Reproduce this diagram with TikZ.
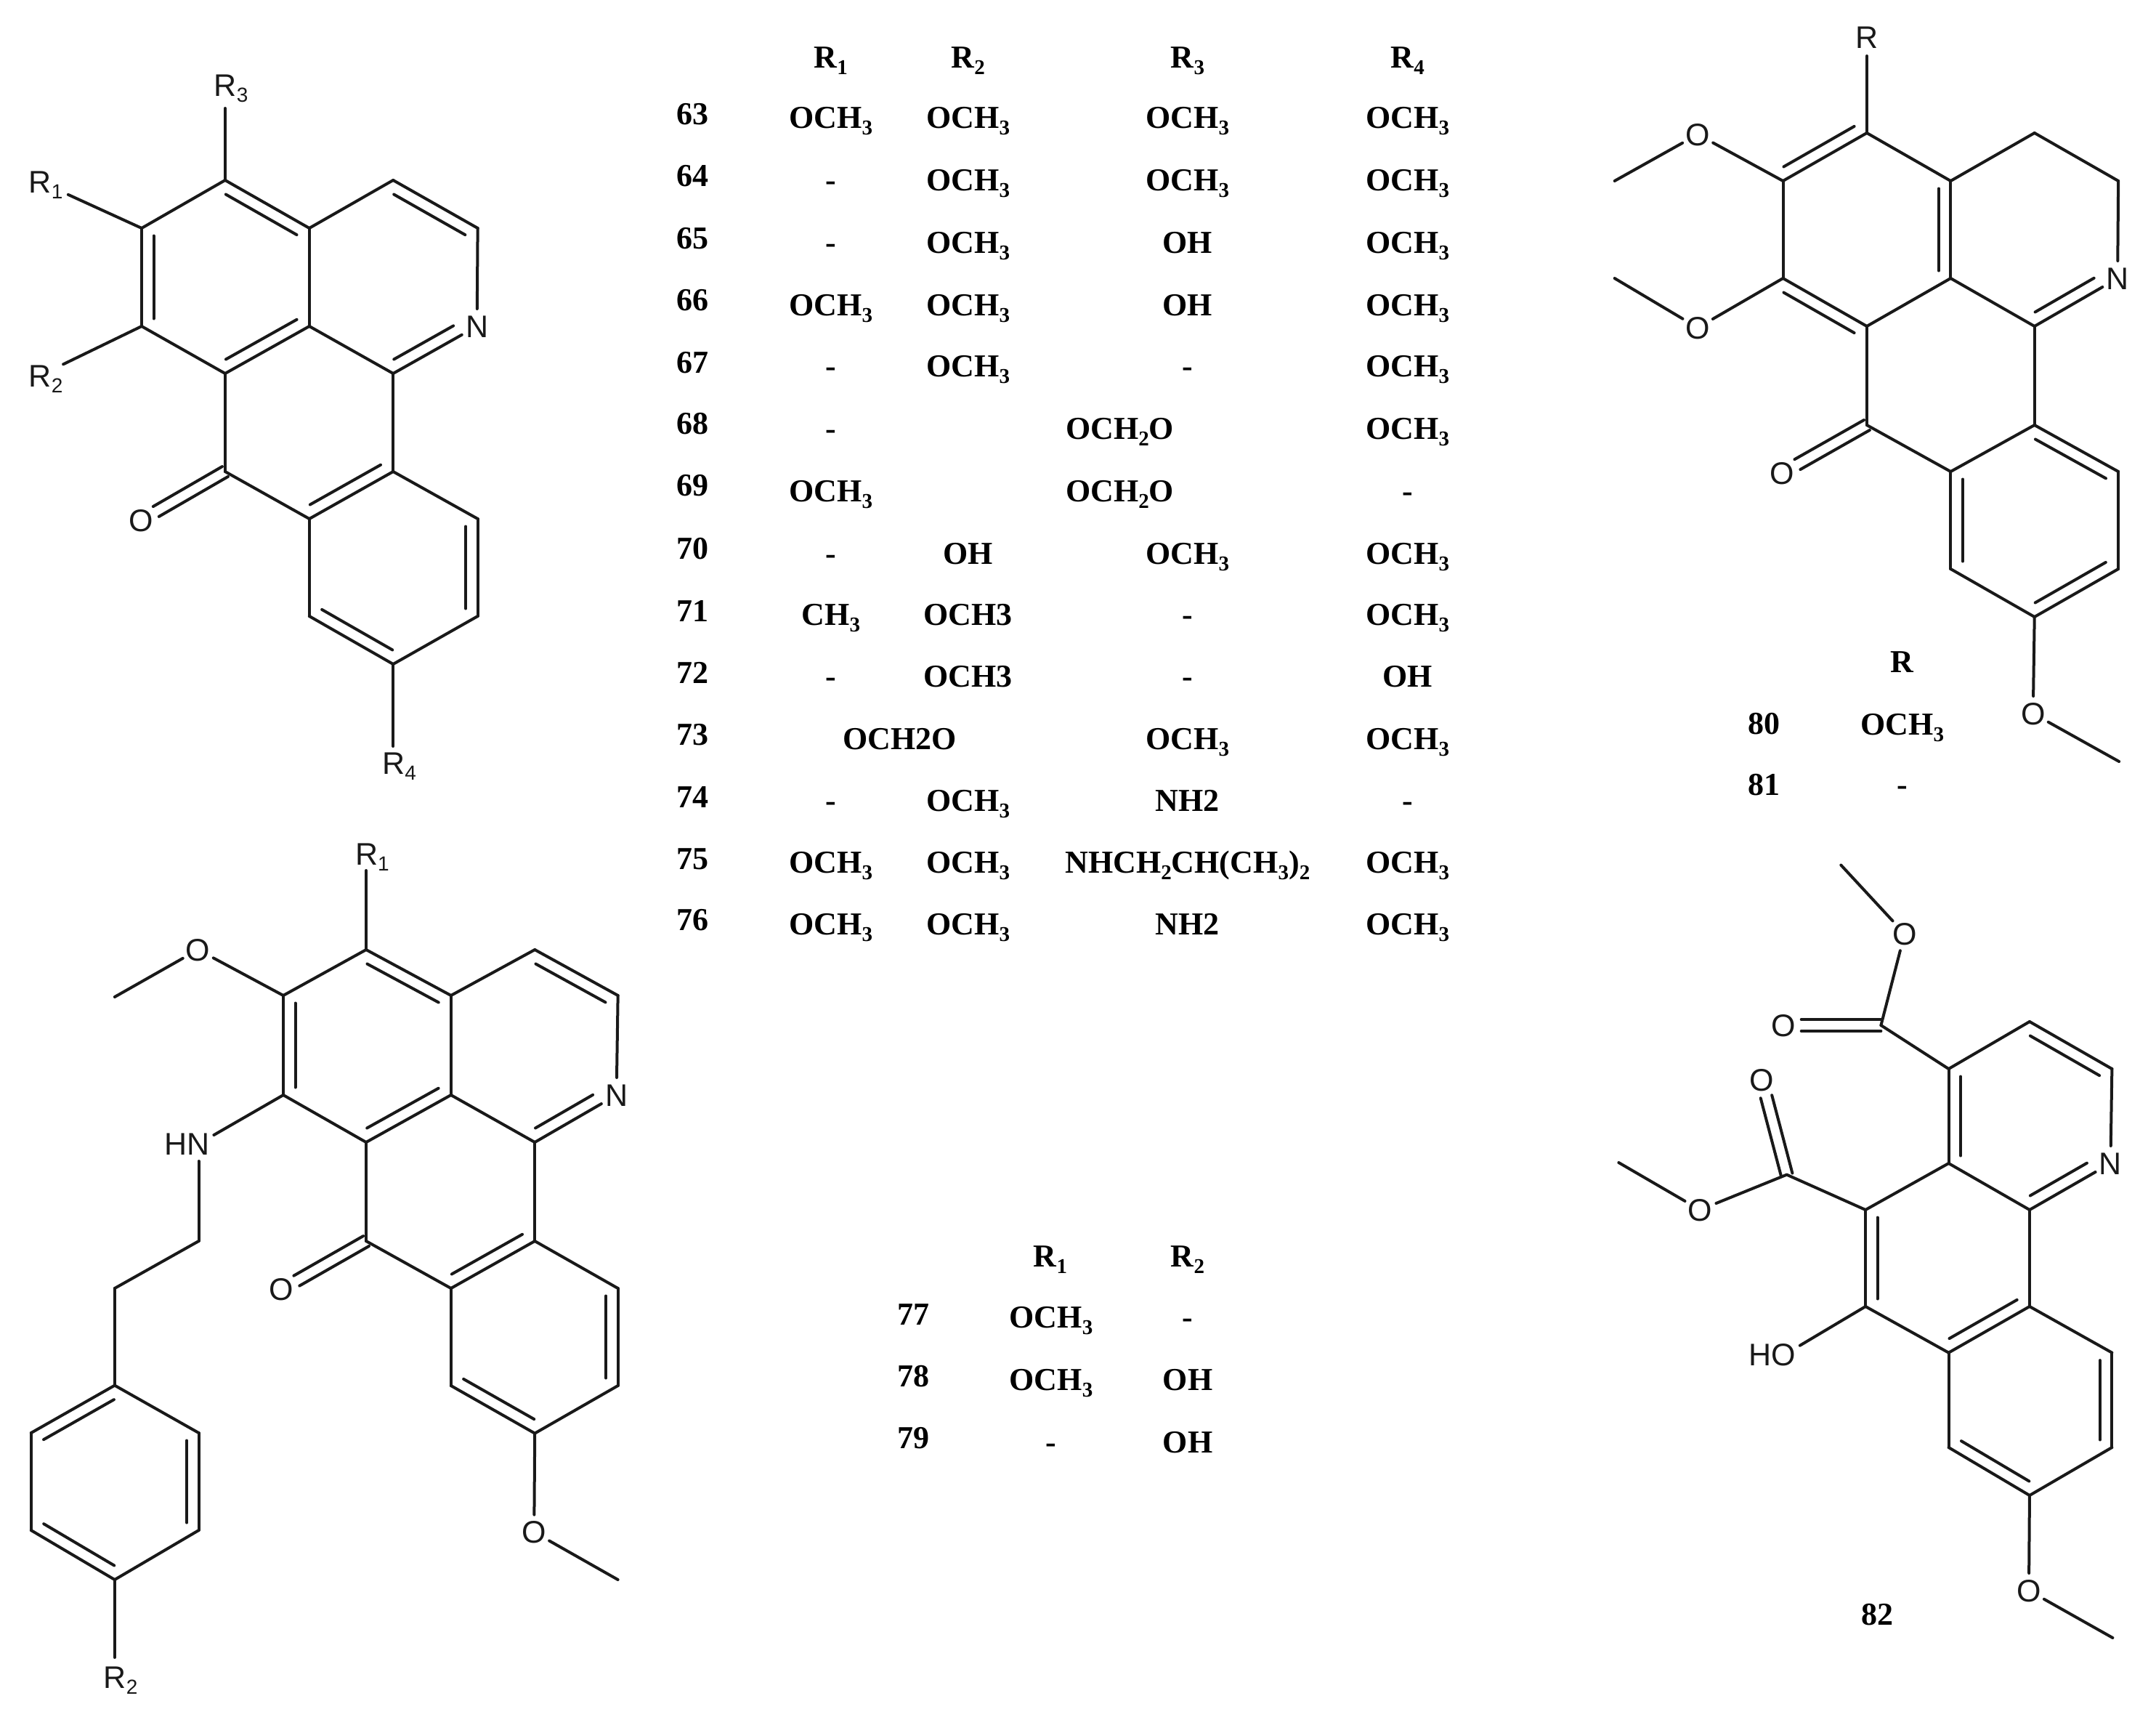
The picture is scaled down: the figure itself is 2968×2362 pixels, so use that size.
\documentclass[tikz,border=0pt]{standalone}
\usepackage{fontspec}
\setmainfont{Liberation Serif}
\newfontfamily\chemfont{Liberation Sans}
\usetikzlibrary{calc}
\newcommand{\sbb}[1]{\raisebox{-9pt}{\fontsize{29}{29}\selectfont #1}}
\newcommand{\sbl}[1]{\raisebox{-8pt}{\fontsize{28}{28}\selectfont #1}}
\newcommand{\och}{OCH\sbb{3}}
\newcommand{\ocho}{OCH\sbb{2}O}
% atom label: text centred, box smashed so that the circle radius sets the bond gap
\newcommand{\lab}[1]{\makebox[0pt][c]{\smash{\raisebox{-15pt}{#1}}}}
\newcommand{\labr}[1]{\makebox[0pt][r]{\smash{\raisebox{-15pt}{#1\hspace{-15pt}}}}}
\newcommand{\labl}[1]{\makebox[0pt][l]{\hspace{-15pt}\smash{\raisebox{-15pt}{#1}}}}
\tikzset{
  bond/.style={line width=4pt,line cap=round,color=black!90},
  atom/.style={circle,inner sep=0pt,outer sep=0pt,minimum size=48pt,font=\chemfont\fontsize{43}{43}\selectfont,text=black!90},
  cell/.style={anchor=base,inner sep=0pt,outer sep=0pt,font=\bfseries\fontsize{44}{44}\selectfont,text=black}
}
% double bond: inner line on the left of a->b as seen on the page
\newcommand{\dbl}[2]{\draw[bond,shorten <=10.5pt,shorten >=10.5pt] ($(#1)!16.5pt!90:(#2)$) -- ($(#2)!16.5pt!-90:(#1)$);}
% inner line towards a hetero atom label
\newcommand{\dbln}[2]{\draw[bond,shorten <=10.5pt,shorten >=28pt] ($(#1)!16.5pt!90:(#2)$) -- ($(#2)!16.5pt!-90:(#1)$);}
% symmetric C=O
\newcommand{\dblc}[2]{\draw[bond,shorten >=24pt] ($(#1)!8pt!90:(#2)$) -- ($(#2)!8pt!-90:(#1)$);
  \draw[bond,shorten >=24pt] ($(#1)!8pt!-90:(#2)$) -- ($(#2)!8pt!90:(#1)$);}
\newcommand{\bnd}[2]{\draw[bond] (#1) -- (#2);}
\newcommand{\cc}[2]{\coordinate (#1) at (#2);}
\newcommand{\tc}[4]{\node[cell] (#1) at (#2,#3) {#4};}
\begin{document}
\begin{tikzpicture}[x=1pt,y=-1pt]
\useasboundingbox (0,0) rectangle (2968,2362);
% ---------- molecule top left
\begin{scope}[x=.9949pt]
\cc{pa}{311.5,248}\cc{pb}{196,314}\cc{pc}{196,449}\cc{pd}{311.5,514}\cc{pe}{428,449}\cc{pf}{428,314}
\cc{pg}{544,248}\cc{ph}{661,314}\cc{pi}{544,514}\cc{pj}{544,649}\cc{pk}{428,714}\cc{pl}{311.5,649}
\cc{pm}{661,714}\cc{pn}{661,848}\cc{po}{544,914}\cc{pp}{428,848}
\node[atom] (pN) at (660,449) {\lab{N}};
\node[atom] (pO) at (195,716) {\lab{O}};
\node[atom,minimum size=64pt] (pR3) at (311.5,117) {\labl{R\sbl{3}}};
\node[atom,minimum size=86pt] (pR1) at (55,250) {\labl{R\sbl{1}}};
\node[atom,minimum size=72pt] (pR2) at (55,517) {\labl{R\sbl{2}}};
\node[atom,minimum size=46pt] (pR4) at (544,1050) {\labl{R\sbl{4}}};
\bnd{pa}{pb}\bnd{pb}{pc}\bnd{pc}{pd}\bnd{pd}{pe}\bnd{pe}{pf}\bnd{pf}{pa}
\bnd{pf}{pg}\bnd{pg}{ph}\bnd{ph}{pN}\bnd{pN}{pi}\bnd{pi}{pe}
\bnd{pi}{pj}\bnd{pj}{pk}\bnd{pk}{pl}\bnd{pl}{pd}
\bnd{pj}{pm}\bnd{pm}{pn}\bnd{pn}{po}\bnd{po}{pp}\bnd{pp}{pk}
\bnd{pa}{pR3}\bnd{pb}{pR1}\bnd{pc}{pR2}\bnd{po}{pR4}
\dbl{pf}{pa}\dbl{pb}{pc}\dbl{pd}{pe}\dbl{ph}{pg}\dbln{pi}{pN}\dbl{pk}{pj}\dbl{pn}{pm}\dbl{pp}{po}
\dblc{pl}{pO}
\end{scope}
% ---------- molecule top right with its table
\begin{scope}[x=.9949pt,xshift=12pt]
\cc{qa}{2571,183}\cc{qb}{2455,249}\cc{qc}{2455,383}\cc{qd}{2571,449}\cc{qe}{2687,383}\cc{qf}{2687,249}
\cc{qg}{2803,183}\cc{qh}{2919,249}\cc{qi}{2803,449}\cc{qj}{2803,585}\cc{qk}{2687,649}\cc{ql}{2571,585}
\cc{qm}{2919,649}\cc{qn}{2919,783}\cc{qo}{2803,849}\cc{qp}{2687,783}
\cc{qme1}{2222,249}\cc{qme2}{2222,383}\cc{qme3}{2920,1048}
\node[atom] (qN) at (2918,383) {\lab{N}};
\node[atom] (qO) at (2454,651) {\lab{O}};
\node[atom,minimum size=52pt] (qR) at (2571,51) {\lab{R}};
\node[atom] (qO1) at (2337,185) {\lab{O}};
\node[atom] (qO2) at (2337,451) {\lab{O}};
\node[atom] (qO3) at (2801,982) {\lab{O}};
\bnd{qa}{qb}\bnd{qb}{qc}\bnd{qc}{qd}\bnd{qd}{qe}\bnd{qe}{qf}\bnd{qf}{qa}
\bnd{qf}{qg}\bnd{qg}{qh}\bnd{qh}{qN}\bnd{qN}{qi}\bnd{qi}{qe}
\bnd{qi}{qj}\bnd{qj}{qk}\bnd{qk}{ql}\bnd{ql}{qd}
\bnd{qj}{qm}\bnd{qm}{qn}\bnd{qn}{qo}\bnd{qo}{qp}\bnd{qp}{qk}
\bnd{qa}{qR}\bnd{qb}{qO1}\bnd{qO1}{qme1}\bnd{qc}{qO2}\bnd{qO2}{qme2}\bnd{qo}{qO3}\bnd{qO3}{qme3}
\dbl{qb}{qa}\dbl{qe}{qf}\dbl{qd}{qc}\dbln{qi}{qN}\dbl{qm}{qj}\dbl{qk}{qp}\dbl{qo}{qn}
\dblc{ql}{qO}
\tc{hG}{2620}{925}{R}
\tc{n80}{2429}{1010}{80}\tc{a80}{2620}{1011}{\och}
\tc{n81}{2429}{1094}{81}\tc{a81}{2620}{1094}{-}
\end{scope}
% ---------- molecule bottom left
\begin{scope}[x=.9949pt]
\cc{ra}{506.6,1307}\cc{rb}{392,1370}\cc{rc}{392,1507}\cc{rd}{506.6,1572}\cc{re}{624,1507}\cc{rf}{624,1370}
\cc{rg}{740,1307}\cc{rh}{855,1370}\cc{ri}{740,1572}\cc{rj}{740,1708}\cc{rk}{624,1773}\cc{rl}{506.6,1708}
\cc{rm}{855,1773}\cc{rn}{855,1907}\cc{ro}{740,1972.6}\cc{rp}{624,1907}
\cc{rme1}{158.7,1372}\cc{rme2}{855,2174}
\cc{rs}{275,1708}\cc{rt}{158.7,1773}
\cc{ru}{158.7,1906.6}\cc{rv}{43,1972}\cc{rw}{43,2106}\cc{rx}{158.7,2174}\cc{ry}{275,2106}\cc{rz}{275,1972}
\node[atom] (rN) at (853,1507) {\lab{N}};
\node[atom] (rO) at (389.5,1774.5) {\lab{O}};
\node[atom] (rO1) at (274,1307) {\lab{O}};
\node[atom] (rO2) at (739,2108.6) {\lab{O}};
\node[atom,minimum size=46pt] (rR1) at (506.6,1175) {\labl{R\sbl{1}}};
\node[atom,minimum size=54pt] (rR2) at (158.7,2308) {\labl{R\sbl{2}}};
\node[atom] (rHN) at (275,1574) {\labr{HN}};
\bnd{ra}{rb}\bnd{rb}{rc}\bnd{rc}{rd}\bnd{rd}{re}\bnd{re}{rf}\bnd{rf}{ra}
\bnd{rf}{rg}\bnd{rg}{rh}\bnd{rh}{rN}\bnd{rN}{ri}\bnd{ri}{re}
\bnd{ri}{rj}\bnd{rj}{rk}\bnd{rk}{rl}\bnd{rl}{rd}
\bnd{rj}{rm}\bnd{rm}{rn}\bnd{rn}{ro}\bnd{ro}{rp}\bnd{rp}{rk}
\bnd{ra}{rR1}\bnd{rb}{rO1}\bnd{rO1}{rme1}\bnd{ro}{rO2}\bnd{rO2}{rme2}
\bnd{rc}{rHN}\bnd{rHN}{rs}\bnd{rs}{rt}\bnd{rt}{ru}
\bnd{ru}{rv}\bnd{rv}{rw}\bnd{rw}{rx}\bnd{rx}{ry}\bnd{ry}{rz}\bnd{rz}{ru}\bnd{rx}{rR2}
\dbl{rf}{ra}\dbl{rb}{rc}\dbl{rd}{re}\dbl{rh}{rg}\dbln{ri}{rN}\dbl{rk}{rj}\dbl{rn}{rm}\dbl{rp}{ro}
\dbl{ru}{rv}\dbl{ry}{rz}\dbl{rw}{rx}
\dblc{rl}{rO}
\end{scope}
% ---------- molecule bottom right
\begin{scope}[x=.9949pt,xshift=11.2pt]
\cc{sme1}{2536,1190.5}\cc{sC1}{2591.4,1411}\cc{sa}{2685,1471}\cc{sb}{2797,1406}\cc{sc}{2911,1471}
\cc{sd}{2797,1665}\cc{se}{2685,1601}\cc{sf}{2570,1665}\cc{sg}{2570,1798}\cc{sh}{2685,1861.6}
\cc{si}{2797,1798}\cc{sj}{2911,1861.6}\cc{sk}{2911,1992}\cc{sl}{2797,2058}\cc{sm}{2685,1992}
\cc{sme2}{2912,2254}\cc{sC2}{2461,1616.6}\cc{sme3}{2228.5,1600}
\node[atom] (sN) at (2909,1601) {\lab{N}};
\node[atom] (sO1) at (2624,1285) {\lab{O}};
\node[atom] (sO2) at (2457,1411) {\lab{O}};
\node[atom] (sO3) at (2796,2189) {\lab{O}};
\node[atom] (sO4) at (2426.5,1486) {\lab{O}};
\node[atom] (sO5) at (2341,1665) {\lab{O}};
\node[atom] (sHO) at (2458.5,1864) {\labr{HO}};
\bnd{sme1}{sO1}\bnd{sO1}{sC1}\bnd{sC1}{sa}\bnd{sa}{sb}\bnd{sb}{sc}\bnd{sc}{sN}\bnd{sN}{sd}\bnd{sd}{se}\bnd{se}{sa}
\bnd{se}{sf}\bnd{sf}{sg}\bnd{sg}{sh}\bnd{sh}{si}\bnd{si}{sd}
\bnd{si}{sj}\bnd{sj}{sk}\bnd{sk}{sl}\bnd{sl}{sm}\bnd{sm}{sh}
\bnd{sl}{sO3}\bnd{sO3}{sme2}\bnd{sf}{sC2}\bnd{sC2}{sO5}\bnd{sO5}{sme3}\bnd{sg}{sHO}
\dbl{sc}{sb}\dbl{sa}{se}\dbln{sd}{sN}\dbl{sf}{sg}\dbl{sh}{si}\dbl{sk}{sj}\dbl{sm}{sl}
\dblc{sC1}{sO2}\dblc{sC2}{sO4}
\tc{n82}{2586}{2236}{82}
\end{scope}
% ---------- main table
\begin{scope}[x=.9949pt,xshift=4.6pt]
\tc{hA}{1145}{93.5}{R\sbb{1}}\tc{hB}{1335}{93.5}{R\sbb{2}}\tc{hC}{1638.6}{93.5}{R\sbb{3}}\tc{hD}{1943}{93.5}{R\sbb{4}}
\tc{n63}{954}{171.6}{63}\tc{a63}{1145}{176}{\och}\tc{b63}{1335}{176}{\och}\tc{c63}{1638.6}{176}{\och}\tc{d63}{1943}{176}{\och}
\tc{n64}{954}{256}{64}\tc{a64}{1145}{262}{-}\tc{b64}{1335}{262}{\och}\tc{c64}{1638.6}{262}{\och}\tc{d64}{1943}{262}{\och}
\tc{n65}{954}{342}{65}\tc{a65}{1145}{348}{-}\tc{b65}{1335}{348}{\och}\tc{c65}{1638.6}{348}{OH}\tc{d65}{1943}{348}{\och}
\tc{n66}{954}{427}{66}\tc{a66}{1145}{434}{\och}\tc{b66}{1335}{434}{\och}\tc{c66}{1638.6}{434}{OH}\tc{d66}{1943}{434}{\och}
\tc{n67}{954}{513}{67}\tc{a67}{1145}{518.6}{-}\tc{b67}{1335}{518.6}{\och}\tc{c67}{1638.6}{518.6}{-}\tc{d67}{1943}{518.6}{\och}
\tc{n68}{954}{597}{68}\tc{a68}{1145}{604}{-}\tc{c68}{1545}{604}{\ocho}\tc{d68}{1943}{604}{\och}
\tc{n69}{954}{682}{69}\tc{a69}{1145}{690}{\och}\tc{c69}{1545}{690}{\ocho}\tc{d69}{1943}{690}{-}
\tc{n70}{954}{769.6}{70}\tc{a70}{1145}{776}{-}\tc{b70}{1335}{776}{OH}\tc{c70}{1638.6}{776}{\och}\tc{d70}{1943}{776}{\och}
\tc{n71}{954}{855}{71}\tc{a71}{1145}{860}{CH\sbb{3}}\tc{b71}{1335}{860}{OCH3}\tc{c71}{1638.6}{860}{-}\tc{d71}{1943}{860}{\och}
\tc{n72}{954}{940}{72}\tc{a72}{1145}{945}{-}\tc{b72}{1335}{945}{OCH3}\tc{c72}{1638.6}{945}{-}\tc{d72}{1943}{945}{OH}
\tc{n73}{954}{1025}{73}\tc{a73}{1240.6}{1031.6}{OCH2O}\tc{c73}{1638.6}{1031.6}{\och}\tc{d73}{1943}{1031.6}{\och}
\tc{n74}{954}{1111}{74}\tc{a74}{1145}{1116}{-}\tc{b74}{1335}{1116}{\och}\tc{c74}{1638.6}{1116}{NH2}\tc{d74}{1943}{1116}{-}
\tc{n75}{954}{1196.6}{75}\tc{a75}{1145}{1201.5}{\och}\tc{b75}{1335}{1201.5}{\och}\tc{c75}{1638.6}{1201.5}{NHCH\sbb{2}CH(CH\sbb{3})\sbb{2}}\tc{d75}{1943}{1201.5}{\och}
\tc{n76}{954}{1280}{76}\tc{a76}{1145}{1286.5}{\och}\tc{b76}{1335}{1286.5}{\och}\tc{c76}{1638.6}{1286.5}{NH2}\tc{d76}{1943}{1286.5}{\och}
\end{scope}
% ---------- lower table
\tc{hE}{1446}{1743}{R\sbb{1}}\tc{hF}{1635}{1743}{R\sbb{2}}
\tc{n77}{1257}{1823}{77}\tc{a77}{1447}{1827}{\och}\tc{b77}{1635}{1827}{-}
\tc{n78}{1257}{1908}{78}\tc{a78}{1447}{1913}{\och}\tc{b78}{1635}{1913}{OH}
\tc{n79}{1257}{1993}{79}\tc{a79}{1447}{1999}{-}\tc{b79}{1635}{1999}{OH}
\end{tikzpicture}
\end{document}
